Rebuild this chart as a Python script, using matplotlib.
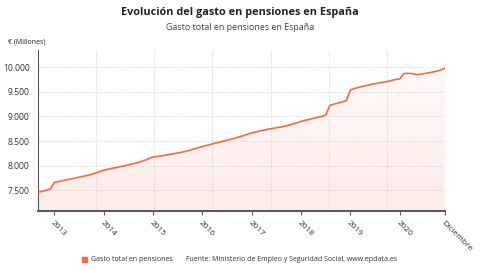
import numpy as np
import pandas as pd
import matplotlib
matplotlib.use("Agg")
import matplotlib.pyplot as plt
from matplotlib.ticker import FuncFormatter

plt.rcParams['font.family'] = ['Open Sans', 'DejaVu Sans']

# Gasto mensual en pensiones (millones de euros), sep 2012 - dic 2020
meses = pd.date_range("2012-09-01", "2020-12-01", freq="MS")
gasto = [
    7455, 7478, 7500, 7525,                                                  # 2012
    7660, 7675, 7695, 7712, 7730, 7748, 7765, 7783, 7800, 7822, 7850, 7875,  # 2013
    7910, 7925, 7945, 7960, 7980, 7995, 8015, 8035, 8055, 8080, 8110, 8145,  # 2014
    8175, 8185, 8198, 8212, 8228, 8243, 8258, 8273, 8292, 8315, 8340, 8365,  # 2015
    8387, 8410, 8430, 8455, 8475, 8495, 8515, 8535, 8560, 8585, 8610, 8640,  # 2016
    8665, 8685, 8705, 8722, 8740, 8755, 8770, 8785, 8800, 8820, 8845, 8870,  # 2017
    8900, 8920, 8940, 8960, 8980, 9000, 9025, 9225, 9250, 9270, 9295, 9320,  # 2018
    9540, 9565, 9590, 9610, 9630, 9650, 9665, 9680, 9695, 9710, 9730, 9750,  # 2019
    9762, 9870, 9875, 9870, 9850, 9855, 9870, 9885, 9900, 9920, 9945, 9980,  # 2020
]
etiquetas_x = ["2013", "2014", "2015", "2016", "2017", "2018", "2019", "2020", "Diciembre"]
fechas_x = ["2013-01-01", "2014-01-01", "2015-01-01", "2016-01-01", "2017-01-01",
            "2018-01-01", "2019-01-01", "2020-01-01", "2020-12-01"]
ticks_y = [7500, 8000, 8500, 9000, 9500, 10000]

color_linea = "#f4694a"

fig = plt.figure(figsize=(4.8, 2.7), dpi=100)
ax = fig.add_axes([0.079, 0.217, 0.848, 0.598])

x = np.arange(len(gasto))
y = np.array(gasto, dtype=float)
ymin, ymax = 7070, 10350

# relleno en degradado bajo la curva
grad = np.linspace(0.13, 0.03, 256).reshape(-1, 1)
rgba = np.zeros((256, 1, 4))
rgba[..., :3] = matplotlib.colors.to_rgb(color_linea)
rgba[..., 3] = grad
img = ax.imshow(rgba, aspect='auto', extent=[x[0], x[-1], ymin, ymax],
                origin='lower', zorder=1)
poly = ax.fill_between(x, y, ymin, color='none', lw=0)
img.set_clip_path(poly.get_paths()[0], transform=ax.transData)

ax.plot(x, y, color=color_linea, lw=1.2, zorder=3)

ax.set_xlim(x[0], x[-1])
ax.set_ylim(ymin, ymax)

# ticks del eje x: posiciones segun las fechas
pos_x = [list(meses).index(pd.Timestamp(f)) for f in fechas_x]
ax.set_xticks(pos_x)
ax.set_xticklabels(etiquetas_x, rotation=-45, ha='left', va='top',
                   rotation_mode='anchor', fontsize=6, color="#333333")
ax.set_xticks(np.linspace(x[0], x[-1], 8), minor=True)
ax.tick_params(axis='x', which='major', length=3, width=0.8, color="#555555", pad=3)
ax.tick_params(axis='x', which='minor', length=0)

ax.set_yticks(ticks_y)
ax.yaxis.set_major_formatter(FuncFormatter(lambda v, p: f"{int(v):,}".replace(",", ".")))
ax.tick_params(axis='y', length=0, labelsize=6.2, colors="#333333", pad=6)

ax.grid(True, axis='y', which='major', color="#d0d0d0", ls=(0, (1, 1.5)), lw=0.7)
ax.grid(True, axis='x', which='minor', color="#d0d0d0", ls=(0, (1, 1.5)), lw=0.7)
ax.grid(False, axis='x', which='major')

for s in ['top', 'right']:
    ax.spines[s].set_visible(False)
ax.spines['left'].set_color("#555555")
ax.spines['left'].set_linewidth(0.8)
ax.spines['bottom'].set_color("#555555")
ax.spines['bottom'].set_linewidth(1.4)

fig.text(0.5, 0.955, "Evolución del gasto en pensiones en España", ha='center', va='center',
         fontsize=7.8, fontweight='bold', color="#222222")
fig.text(0.5, 0.897, "Gasto total en pensiones en España", ha='center', va='center',
         fontsize=6.4, color="#444444")
fig.text(0.017, 0.845, "€ (Millones)", ha='left', va='center', fontsize=5, color="#222222")

# leyenda y fuente
fig.patches.append(matplotlib.patches.Rectangle((0.171, 0.031), 0.011, 0.019,
                   transform=fig.transFigure, color=color_linea, figure=fig))
fig.text(0.189, 0.04, "Gasto total en pensiones", ha='left', va='center', fontsize=5, color="#333333")
fig.text(0.387, 0.04, "Fuente: Ministerio de Empleo y Seguridad Social, www.epdata.es",
         ha='left', va='center', fontsize=5, color="#333333")

fig.savefig("out.png", dpi=100)
